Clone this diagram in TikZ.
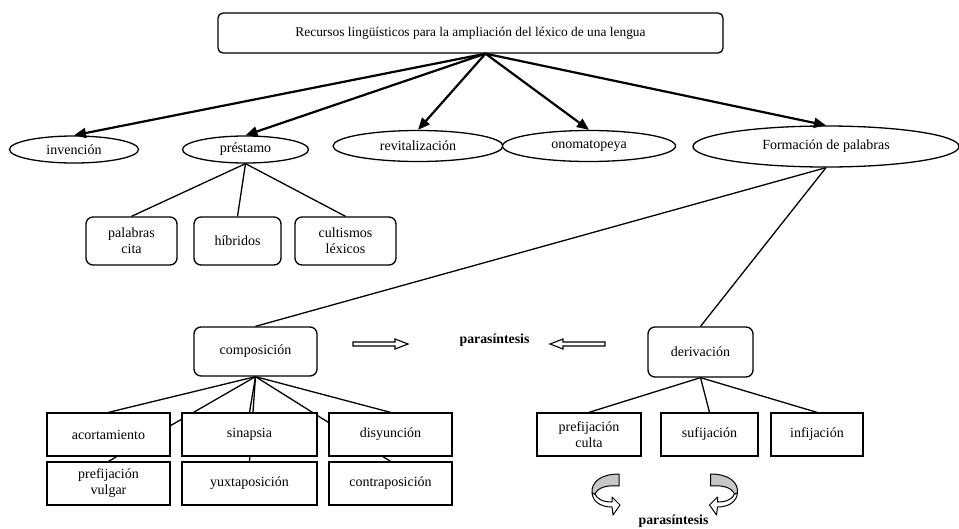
\documentclass[tikz,border=0pt]{standalone}
\usepackage{fontspec}
\setmainfont{Liberation Serif}
\usetikzlibrary{shapes.geometric,arrows.meta}
\pgfdeclarelayer{background}
\pgfsetlayers{background,main}

\tikzset{
  % hollow block arrow pointing to the right, tail at the origin
  hollowarrow/.pic={
    \draw[line width=1.1pt, fill=white, line join=miter]
      (0,-2) -- (42,-2) -- (42,-5) -- (55,0) -- (42,5) -- (42,2) -- (0,2) -- cycle;
  },
  % twisted ribbon arrow curling round to the right
  curlarrow/.pic={
    \draw[line width=1pt, fill=white, line join=round]
      (-14,3) .. controls (-13,12) and (-5,17) .. (6,17) -- (7,25) -- (14,15)
      -- (6,7) -- (6,12) .. controls (-3,12) and (-9,9) .. (-11,4) -- cycle;
    \draw[line width=1pt, fill=black!22, line join=round]
      (13,-16) -- (13,-4) .. controls (2,-5) and (-8,-3) .. (-11,4)
      -- (-14,3) .. controls (-15,-8) and (-5,-16) .. (13,-16) -- cycle;
  },
}

\begin{document}
\begin{tikzpicture}[x=1pt, y=-1pt,
  every node/.style={inner sep=0pt, align=center, font=\fontsize{14}{16}\selectfont},
  oval/.style={ellipse, draw, line width=1.3pt, fill=white},
  rbox/.style={rectangle, rounded corners=7pt, draw, line width=1.3pt, fill=white},
  sbox/.style={rectangle, draw, line width=1.3pt, fill=white, minimum height=43pt},
  link/.style={line width=1.3pt},
  bigarrow/.style={line width=2.2pt, -{Triangle[length=12pt, width=10pt]}},
  tag/.style={font=\bfseries\fontsize{13.8}{15}\selectfont},
]
\useasboundingbox (0,0) rectangle (959,528);

% root
\node[rbox, rounded corners=5pt, minimum width=505pt, minimum height=40pt,
      font=\fontsize{13.4}{15}\selectfont] (root) at (470.5,33)
  {Recursos lingüísticos para la ampliación del léxico de una lengua};

% first level
\node[oval, minimum width=129pt, minimum height=27pt] (inv)  at (74,149.5)  {invención};
\node[oval, minimum width=126pt, minimum height=27pt] (pres) at (245.5,149.5) {préstamo};
\node[oval, minimum width=170pt, minimum height=31pt] (rev)  at (418,146)   {revitalización};
\node[oval, minimum width=173pt, minimum height=31pt] (ono)  at (589,146)   {onomatopeya};
\node[oval, minimum width=266pt, minimum height=41pt] (form) at (826,146.5) {Formación de palabras};

% loans
\node[rbox, minimum width=91pt,  minimum height=48pt] (cita) at (131.5,241) {palabras\\cita};
\node[rbox, minimum width=87pt,  minimum height=48pt] (hib)  at (237.5,241) {híbridos};
\node[rbox, minimum width=101pt, minimum height=48pt] (cult) at (345.5,241) {cultismos\\léxicos};

% word formation
\node[rbox, minimum width=123pt, minimum height=49pt] (comp) at (255.5,351.5) {composición};
\node[rbox, minimum width=105pt, minimum height=50pt] (der)  at (700.5,352)   {derivación};

% compounding
\node[sbox, minimum width=123pt] (acor)   at (108.5,434.5) {acortamiento};
\node[sbox, minimum width=135pt] (sin)    at (249.5,434.5) {sinapsia};
\node[sbox, minimum width=123pt] (dis)    at (390.5,434.5) {disyunción};
\node[sbox, minimum width=123pt] (pvul)   at (108.5,483.5) {prefijación\\vulgar};
\node[sbox, minimum width=135pt] (yux)    at (249.5,483.5) {yuxtaposición};
\node[sbox, minimum width=123pt] (contra) at (390.5,483.5) {contraposición};

% derivation
\node[sbox, minimum width=104pt] (pcul) at (589,434.5)   {prefijación\\culta};
\node[sbox, minimum width=97pt]  (suf)  at (709.5,434.5) {sufijación};
\node[sbox, minimum width=92pt]  (inf)  at (817,434.5)   {infijación};

% parasynthesis
\node[tag] (para)  at (494.5,340) {parasíntesis};
\node[tag] (para2) at (673.5,521) {parasíntesis};

% plain links, behind the boxes
\begin{pgfonlayer}{background}
  \foreach \c in {cita,hib,cult} \draw[link] (pres.south) -- (\c.north);
  \draw[link] (form.south) -- (comp.north);
  \draw[link] (form.south) -- (der.north);
  \foreach \c in {acor,sin,dis,pvul,yux,contra} \draw[link] (comp.south) -- (\c.north);
  \foreach \c in {pcul,suf,inf} \draw[link] (der.south) -- (\c.north);
\end{pgfonlayer}

% arrows from the root
\coordinate (hub) at ([xshift=15pt]root.south);
\foreach \c in {inv,pres,rev,ono,form} \draw[bigarrow] (hub) -- (\c.north);

% block arrows towards parasynthesis
\pic at (353,344) {hollowarrow};
\pic[xscale=-1] at (605,344) {hollowarrow};

% twisted arrows under derivation
\pic at (606,490) {curlarrow};
\pic[xscale=-1] at (723.5,490) {curlarrow};
\end{tikzpicture}
\end{document}
